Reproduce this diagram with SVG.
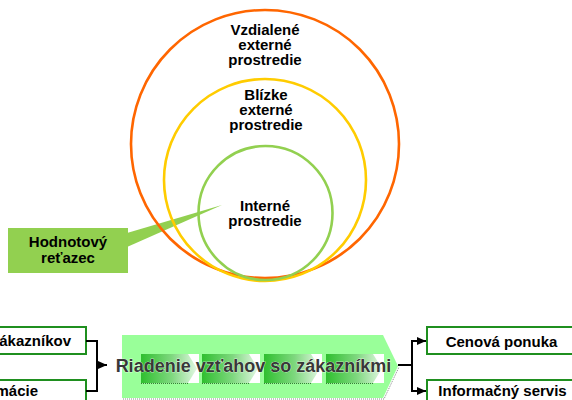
<svg xmlns="http://www.w3.org/2000/svg" width="572" height="400" viewBox="0 0 572 400">
<style>
text{font-family:"Liberation Sans",Arial,sans-serif;font-weight:bold;fill:#000}
.lbl{font-size:15px;text-anchor:middle}
.ring{fill:none;stroke-width:2.6}
.box{fill:#fff;stroke:#1f8f1f;stroke-width:2}
.con{fill:none;stroke:#000;stroke-width:2}
.chev{fill:url(#cg)}
</style>
<defs>
<linearGradient id="cg" x1="0" y1="0" x2="1" y2="0">
<stop offset="0" stop-color="#2fbf2f"/>
<stop offset="0.55" stop-color="#7fd87f"/>
<stop offset="1" stop-color="#e2f7e2"/>
</linearGradient>
<marker id="ah" markerUnits="userSpaceOnUse" markerWidth="10" markerHeight="10" refX="9" refY="5" orient="auto">
<path d="M0,1 L9,5 L0,9 Z" fill="#000"/>
</marker>
</defs>

<g id="callout">
<polygon points="127,233 222,205 127,247" fill="#92d050"/>
</g>

<g id="outer">
<circle class="ring" cx="265" cy="144" r="134" stroke="#ff6600"/>
<text class="lbl" x="265" y="35">Vzdialené</text>
<text class="lbl" x="265" y="50">externé</text>
<text class="lbl" x="265" y="65">prostredie</text>
</g>

<g id="near">
<circle class="ring" cx="265" cy="180" r="101" stroke="#ffcc00"/>
<text class="lbl" x="266" y="100">Blízke</text>
<text class="lbl" x="266" y="115">externé</text>
<text class="lbl" x="266" y="130">prostredie</text>
</g>

<g id="internal">
<circle class="ring" cx="265.5" cy="213" r="67" stroke="#92d050"/>
<text class="lbl" x="265" y="211">Interné</text>
<text class="lbl" x="265" y="226">prostredie</text>
</g>

<g id="hodnotovy">
<rect x="8" y="228" width="120" height="45" fill="#92d050"/>
<text class="lbl" x="68" y="247">Hodnotový</text>
<text class="lbl" x="68" y="263">reťazec</text>
</g>

<g id="box-zakaznikov">
<rect class="box" x="-10" y="327" width="96" height="27"/>
<text x="71" y="346" font-size="15" text-anchor="end">ákazníkov</text>
</g>

<g id="box-macie">
<rect class="box" x="-10" y="380" width="96" height="40"/>
<text x="38" y="396" font-size="15" text-anchor="end">mácie</text>
</g>

<g id="crm">
<polyline points="123,399 384,399 399,367" fill="none" stroke="#888" stroke-width="1" stroke-dasharray="1,1"/>
<polygon points="122,335 383,335 398,366 383,398 122,398" fill="#99ff99"/>
<rect x="141" y="354" width="58" height="29" fill="#fff"/>
<rect x="202" y="354" width="58" height="29" fill="#fff"/>
<rect x="264" y="354" width="58" height="29" fill="#fff"/>
<rect x="326" y="354" width="58" height="29" fill="#fff"/>
<polygon class="chev" points="141,354 188,354 197,368.5 188,383 141,383"/>
<polygon class="chev" points="202,354 249,354 258,368.5 249,383 202,383"/>
<polygon class="chev" points="264,354 311,354 320,368.5 311,383 264,383"/>
<polygon class="chev" points="326,354 373,354 382,368.5 373,383 326,383"/>
<g stroke="#3a7a3a" stroke-width="1" stroke-dasharray="1,1">
<line x1="141" y1="383.5" x2="188" y2="383.5"/>
<line x1="202" y1="383.5" x2="249" y2="383.5"/>
<line x1="264" y1="383.5" x2="311" y2="383.5"/>
<line x1="326" y1="383.5" x2="373" y2="383.5"/>
</g>
<text x="253.5" y="372" font-size="18" text-anchor="middle" style="fill:#383838;stroke:#fff;stroke-width:0.6;paint-order:stroke">Riadenie vzťahov so zákazníkmi</text>
</g>

<g id="box-cenova">
<rect class="box" x="427" y="327" width="160" height="27"/>
<text class="lbl" x="501.5" y="347">Cenová ponuka</text>
</g>

<g id="box-informacny">
<rect class="box" x="427" y="380" width="160" height="40"/>
<text class="lbl" x="502.5" y="396">Informačný servis</text>
</g>

<g id="connectors">
<path class="con" d="M86,341 H97 V391 H86"/>
<path class="con" d="M97,365 H107" marker-end="url(#ah)"/>
<path class="con" d="M398,365 H412"/>
<path class="con" d="M412,341 V391"/>
<path class="con" d="M411,341 H426" marker-end="url(#ah)"/>
<path class="con" d="M411,391 H426" marker-end="url(#ah)"/>
</g>
</svg>
